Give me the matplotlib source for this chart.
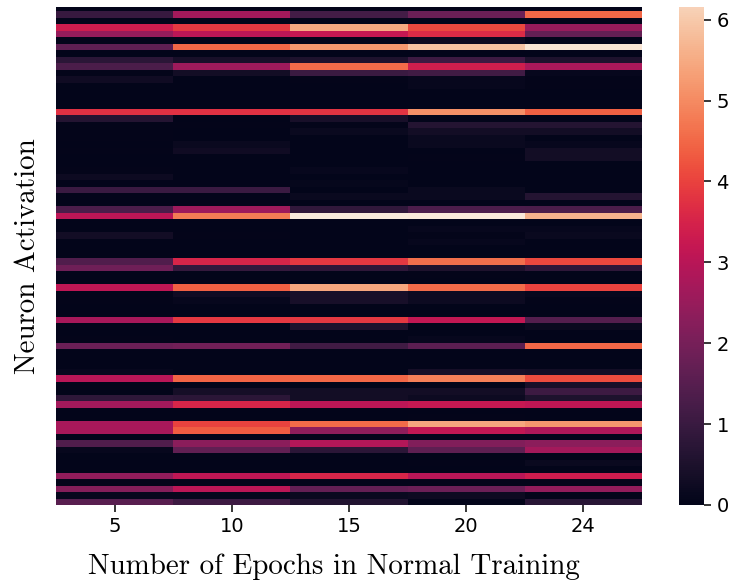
"""Neuron activation heatmap over normal training epochs."""
import matplotlib
matplotlib.use("Agg")
import matplotlib.pyplot as plt
import numpy as np
import seaborn as sns

epochs = ["5", "10", "15", "20", "24"]

epoch_5 = [.05, .97, 0, 3.33, 2.47, 0, 1.61, 0, .75, 1.29,
           .05, .27, 0, 0, 0, 0, 3.76, .64, .05, .05,
           .05, 0, .05, 0, 0, .05, .21, 0, 1.02, .03,
           0, 1.29, 3.06, 0, 0, .32, 0, 0, 0, 1.39,
           1.88, 0, 0, 3.11, .05, .05, 0, 0, 2.74, 0,
           0, .05, 1.82, 0, 0, 0, .11, 3.0, 0, 0,
           .8, 2.68, 0, 0, 2.74, 2.74, 0, 1.39, .11, 0,
           0, 0, 2.41, .03, 2.2, .11, 1.5]
epoch_10 = [.05, 2.68, 0, 3.86, 3.06, 0, 4.51, 0, .43, 2.58,
            .32, 0, 0, 0, 0, 0, 3.76, 0, .05, 0,
            0, .16, .27, 0, 0, 0, 0, 0, 1.02, .05,
            0, 2.6, 4.78, 0, 0, .05, 0, 0, 0, 3.54,
            .91, 0, 0, 4.4, .27, .11, 0, 0, 3.86, 0,
            0, 0, 1.93, 0, 0, 0, 0, 4.45, 0, .38,
            .75, 3.54, 0, 0, 4.02, 4.35, 0, 2.31, 1.66, 0,
            0, 0, 3.11, .03, 3.06, .11, 1.07]
epoch_15 = [.05, 1.18, 0, 5.47, 3.22, 0, 5.2, 0, .54, 4.56,
            1.02, .05, 0, 0, 0, 0, 3.81, .43, .05, .16,
            0, 0, 0, 0, 0, .11, 0, .09, 0, .16,
            0, .86, 6.6, 0, 0, 0, 0, 0, 0, 3.86,
            .8, 0, 0, 5.42, .43, .43, 0, 0, 3.86, .54,
            0, 0, 1.13, 0, 0, 0, 0, 4.51, 0, .32,
            .32, 3.06, 0, 0, 4.56, 2.36, 0, 2.9, .75, 0,
            0, 0, 3.54, .03, 1.72, .16, .59]
epoch_20 = [.05, 1.82, 0, 4.08, 3.65, .21, 5.9, 0, 1.07, 3.38,
            1.13, .11, .11, 0, 0, 0, 5.1, 0, .64, .32,
            .16, .16, 0, .05, 0, 0, 0, 0, .16, .16,
            0, 1.34, 6.55, 0, .11, .05, .11, 0, 0, 4.61,
            .54, .05, 0, 4.56, .21, .21, 0, 0, 3.17, 0,
            0, .11, 1.56, 0, 0, 0, .38, 4.83, 0, .32,
            .21, 3.22, 0, .05, 5.42, 3.17, 0, 2.15, 1.61, 0,
            .05, 0, 3.0, .03, 1.82, .21, 0]
epoch_24 = [.05, 4.51, 0, 2.52, 1.72, 0, 6.49, 0, .54, 2.79,
            .11, .05, .05, 0, 0, 0, 4.4, 0, .64, .32,
            0, .11, .32, .32, 0, 0, 0, 0, 0, .64,
            0, 1.29, 5.63, 0, .11, .16, 0, 0, 0, 4.08,
            .8, 0, 0, 4.02, .11, .05, 0, 0, 1.45, .16,
            0, 0, 4.51, 0, 0, 0, .32, 4.13, .43, 1.07,
            .54, 3.11, 0, 0, 5.2, 2.84, 0, 2.31, 2.68, 0,
            .16, 0, 3.33, .03, 2.41, .05, .7]

W, H = 737, 585
activations = np.column_stack([epoch_5, epoch_10, epoch_15, epoch_20, epoch_24])

plt.rcParams["axes.formatter.use_mathtext"] = True

fig = plt.figure(figsize=(W / 100, H / 100), dpi=100)
ax = fig.add_axes([56 / W, 1 - 505 / H, 586 / W, 498 / H])
cax = fig.add_axes([679 / W, 1 - 505 / H, 25 / W, 498 / H])

sns.heatmap(activations, ax=ax, cbar_ax=cax, vmin=0, vmax=6.6,
            xticklabels=epochs, yticklabels=False)
# top row and colorbar top are cut off in the reference
ax.set_ylim(activations.shape[0], 0.38)
cax.set_ylim(0, 6.157)

ax.tick_params(axis="x", labelsize=14, length=5, width=1.1)
cax.tick_params(labelsize=14, length=5, width=1.1)
cax.set_yticks(range(7))

ax.set_xlabel("Number of Epochs in Normal Training", family="cmr10", fontsize=20.9,
              labelpad=13, x=0.475)
ax.set_ylabel("Neuron Activation", family="cmr10", fontsize=20.9, labelpad=10.5)

fig.savefig("out.png", dpi=100)
plt.close(fig)
